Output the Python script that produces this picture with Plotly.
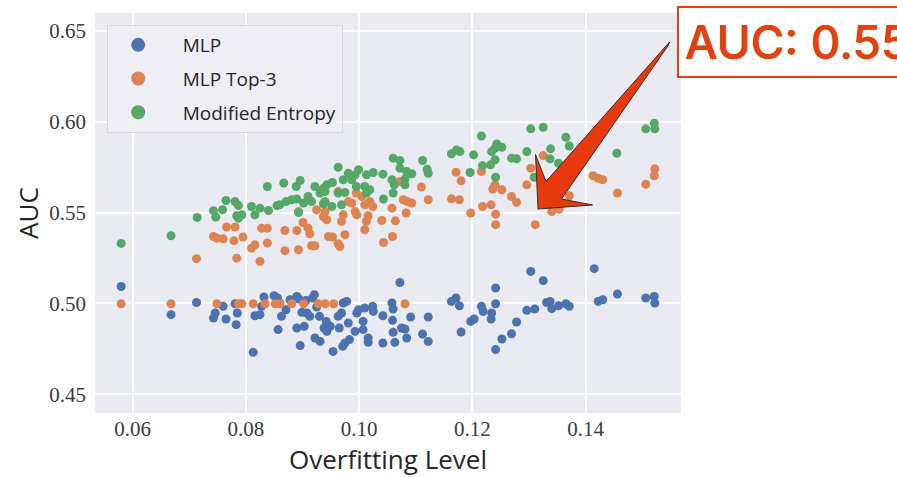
import plotly.graph_objects as go

# ---------------- data ----------------
mlp_x = [0.0580,0.0668,0.0713,0.0746,0.0743,0.0765,0.0760,0.0783,0.0785,0.0781,0.0813,0.0816,0.0825,0.0832,0.0828,
         0.0850,0.0856,0.0860,0.0871,0.0863,0.0857,0.0878,0.0890,0.0894,0.0890,0.0903,0.0896,0.0899,0.0908,0.0913,
         0.0906,0.0918,0.0921,0.0925,0.0930,0.0922,0.0931,0.0942,0.0938,0.0943,0.0949,0.0954,0.0963,0.0969,0.0965,
         0.0978,0.0972,0.0981,0.0975,0.0971,0.0983,0.0993,0.0996,0.0999,0.1010,0.1007,0.1007,0.1016,0.1024,0.1025,
         0.1016,0.1042,0.1042,0.1058,0.1060,0.1059,0.1060,0.1063,0.1072,0.1075,0.1081,0.1084,0.1091,0.1112,0.1122,
         0.1122,0.1163,0.1171,0.1177,0.1180,0.1197,0.1203,0.1216,0.1219,0.1234,0.1233,0.1241,0.1241,0.1241,0.1252,
         0.1269,0.1278,0.1296,0.1310,0.1303,0.1325,0.1331,0.1337,0.1340,0.1352,0.1365,0.1371,0.1415,0.1422,0.1430,
         0.1456,0.1506,0.1521,0.1522]
mlp_y = [0.5093,0.4938,0.5005,0.4947,0.4920,0.4914,0.4984,0.4883,0.4947,0.4998,0.4731,0.4932,0.4938,0.5035,0.4984,
         0.5042,0.5030,0.5002,0.4965,0.4929,0.4856,0.5020,0.5038,0.5024,0.4865,0.4874,0.4768,0.4951,0.4947,0.4929,
         0.5016,0.5030,0.5048,0.4980,0.4929,0.4810,0.4791,0.4901,0.4865,0.4846,0.4874,0.4736,0.4929,0.4947,0.4865,
         0.5011,0.5002,0.4892,0.4782,0.4764,0.4801,0.4846,0.4947,0.4965,0.4975,0.4901,0.4856,0.4810,0.4984,0.4956,
         0.4786,0.4932,0.4782,0.5002,0.4969,0.4907,0.4841,0.4786,0.5115,0.4865,0.4859,0.4810,0.4925,0.4832,0.4925,
         0.4791,0.5011,0.5030,0.4987,0.4843,0.4901,0.4914,0.4984,0.4956,0.4947,0.4914,0.5085,0.4998,0.4746,0.4804,
         0.4833,0.4898,0.4962,0.4969,0.5176,0.5125,0.5005,0.5011,0.4971,0.4987,0.4998,0.4984,0.5191,0.5011,0.5020,
         0.5052,0.5030,0.5038,0.5002]

top3_x = [0.0580,0.0668,0.0749,0.0787,0.0793,0.0813,0.0834,0.0852,0.0860,0.0881,0.0902,0.0928,0.0940,0.0955,0.1081,
          0.0713,0.0743,0.0749,0.0760,0.0766,0.0781,0.0779,0.0795,0.0784,0.0810,0.0816,0.0825,0.0828,0.0838,0.0838,
          0.0869,0.0869,0.0890,0.0893,0.0893,0.0901,0.0910,0.0913,0.0916,0.0922,0.0925,0.0937,0.0943,0.0946,0.0940,
          0.0963,0.0972,0.0969,0.0975,0.0953,0.0963,0.0966,0.0981,0.0987,0.0993,0.0996,0.0995,0.1005,0.1010,0.1019,
          0.1024,0.1016,0.1013,0.1010,0.1040,0.1058,0.1064,0.1059,0.1043,0.1072,0.1078,0.1085,0.1093,0.1083,0.1110,
          0.1122,0.1163,0.1177,0.1171,0.1180,0.1197,0.1216,0.1218,0.1233,0.1236,0.1240,0.1252,0.1241,0.1241,0.1269,
          0.1278,0.1296,0.1303,0.1325,0.1311,0.1340,0.1353,0.1371,0.1413,0.1422,0.1430,0.1456,0.1506,0.1521,0.1522]
top3_y = [0.4998,0.4998,0.4998,0.4998,0.4998,0.4998,0.4998,0.4998,0.4998,0.4998,0.4998,0.4998,0.4998,0.4998,0.4998,
          0.5246,0.5368,0.5359,0.5355,0.5420,0.5420,0.5344,0.5365,0.5249,0.5304,0.5322,0.5231,0.5414,0.5414,0.5332,
          0.5401,0.5290,0.5401,0.5295,0.5505,0.5445,0.5414,0.5383,0.5317,0.5317,0.5515,0.5478,0.5460,0.5368,0.5505,
          0.5615,0.5487,0.5451,0.5378,0.5365,0.5328,0.5313,0.5560,0.5552,0.5505,0.5487,0.5607,0.5588,0.5542,0.5560,
          0.5533,0.5482,0.5451,0.5405,0.5456,0.5524,0.5454,0.5368,0.5335,0.5670,0.5570,0.5560,0.5552,0.5497,0.5640,
          0.5570,0.5575,0.5570,0.5722,0.5674,0.5497,0.5725,0.5533,0.5542,0.5629,0.5652,0.5625,0.5491,0.5433,0.5588,
          0.5557,0.5652,0.5744,0.5813,0.5433,0.5505,0.5518,0.5592,0.5702,0.5689,0.5680,0.5607,0.5656,0.5702,0.5740]

ent_x = [0.0580,0.0668,0.0714,0.0743,0.0747,0.0759,0.0765,0.0781,0.0787,0.0784,0.0793,0.0787,0.0810,0.0816,0.0825,
         0.0838,0.0840,0.0855,0.0860,0.0867,0.0871,0.0881,0.0890,0.0889,0.0896,0.0893,0.0902,0.0910,0.0916,0.0922,
         0.0931,0.0937,0.0943,0.0940,0.0963,0.0953,0.0937,0.0940,0.0952,0.0969,0.0963,0.0975,0.0981,0.0972,0.0987,
         0.0995,0.0999,0.0993,0.1010,0.1013,0.1019,0.1025,0.1013,0.1042,0.1043,0.1060,0.1072,0.1058,0.1062,0.1072,
         0.1060,0.1081,0.1084,0.1093,0.1081,0.1112,0.1120,0.1122,0.1163,0.1172,0.1178,0.1202,0.1216,0.1196,0.1218,
         0.1232,0.1234,0.1240,0.1243,0.1252,0.1240,0.1241,0.1269,0.1278,0.1296,0.1303,0.1325,0.1338,0.1337,0.1352,
         0.1365,0.1371,0.1309,0.1455,0.1506,0.1521,0.1522]
ent_y = [0.5330,0.5372,0.5473,0.5510,0.5475,0.5515,0.5566,0.5560,0.5538,0.5482,0.5487,0.5469,0.5533,0.5487,0.5524,
         0.5643,0.5511,0.5538,0.5542,0.5662,0.5560,0.5570,0.5574,0.5643,0.5676,0.5500,0.5552,0.5588,0.5560,0.5643,
         0.5607,0.5548,0.5652,0.5615,0.5749,0.5665,0.5634,0.5560,0.5533,0.5542,0.5607,0.5610,0.5716,0.5680,0.5680,
         0.5643,0.5735,0.5707,0.5643,0.5707,0.5625,0.5720,0.5607,0.5711,0.5574,0.5799,0.5786,0.5680,0.5652,0.5744,
         0.5607,0.5684,0.5725,0.5713,0.5652,0.5786,0.5738,0.5716,0.5823,0.5844,0.5835,0.5817,0.5921,0.5720,0.5757,
         0.5762,0.5835,0.5854,0.5877,0.5859,0.5790,0.5694,0.5799,0.5795,0.5835,0.5960,0.5969,0.5850,0.5795,0.5771,
         0.5914,0.5866,0.5694,0.5826,0.5960,0.5991,0.5960]

series_names = ["MLP", "MLP Top-3", "Modified Entropy"]
series_colors = ["#4C72B0", "#DD8452", "#55A868"]
x_ticks = [0.06, 0.08, 0.10, 0.12, 0.14]
y_ticks = [0.45, 0.50, 0.55, 0.60, 0.65]
callout_text = "AUC: 0.55"

# ---------------- layout geometry ----------------
W, H = 897, 477
ML, MR, MT, MB = 95, 216, 13, 64
PW, PH = W - ML - MR, H - MT - MB

def px2paper(px, py):
    return (px - ML) / PW, (H - MB - py) / PH

fig = go.Figure()
for name, col, xs, ys in zip(series_names, series_colors,
                             [mlp_x, top3_x, ent_x], [mlp_y, top3_y, ent_y]):
    fig.add_trace(go.Scatter(x=xs, y=ys, mode="markers", name=name, showlegend=False,
                             marker=dict(color=col, size=9, line=dict(width=0))))
# legend-only entries (bigger symbols like the reference)
for name, col in zip(series_names, series_colors):
    fig.add_trace(go.Scatter(x=[None], y=[None], mode="markers", name=name, legendgroup=name,
                             marker=dict(color=col, size=14, line=dict(width=0))))

# arrow polygon (decoration) in pixel space -> paper
arrow_px = [(538, 209), (535.5, 154.5), (546, 181.5), (669.5, 42), (667.5, 46.5),
            (561.5, 199), (592.5, 205)]
pts = [px2paper(a, b) for a, b in arrow_px]
path = "M " + " L ".join(f"{p[0]:.4f},{p[1]:.4f}" for p in pts) + " Z"
fig.add_shape(type="path", path=path, xref="paper", yref="paper",
              fillcolor="#E8380D", line=dict(color="#3a2a2a", width=1), layer="above")

bx, by = px2paper(676.7, 42)
fig.add_annotation(text=callout_text, xref="paper", yref="paper", x=bx, y=by,
                   xanchor="left", yanchor="middle", showarrow=False,
                   font=dict(family="Inter", size=46, color="#E8400D", weight=500,
                             shadow="0px 0px 0.7px #6a2000"),
                   bgcolor="white", bordercolor="#E8400D", borderwidth=2, borderpad=6)

serif = "Liberation Serif, DejaVu Serif, serif"
lx, ly = px2paper(106.7, 25)
fig.update_layout(
    width=W, height=H,
    margin=dict(l=ML, r=MR, t=MT, b=MB, autoexpand=False),
    paper_bgcolor="white", plot_bgcolor="#EAEAF2",
    legend=dict(x=lx, y=ly, xanchor="left", yanchor="top",
                bgcolor="rgba(238,238,244,0.9)", bordercolor="#d6d6de", borderwidth=1,
                font=dict(family="Open Sans", size=19, color="#262626"),
                tracegroupgap=6, itemwidth=79, indentation=-14),
    xaxis=dict(range=[0.05338, 0.15682], tickvals=x_ticks, ticktext=[f"{v:.2f}" for v in x_ticks],
               showgrid=True, gridcolor="white", gridwidth=1.5, zeroline=False, showline=False,
               ticks="", ticklabelstandoff=1,
               tickfont=dict(family=serif, size=21, color="#3a3a3a"),
               title=dict(text="Overfitting Level", standoff=8,
                          font=dict(family="Open Sans", size=26, color="#262626"))),
    yaxis=dict(range=[0.43973, 0.65973], tickvals=y_ticks, ticktext=[f"{v:.2f}" for v in y_ticks],
               showgrid=True, gridcolor="white", gridwidth=1.5, zeroline=False, showline=False,
               ticks="", ticklabelstandoff=8,
               tickfont=dict(family=serif, size=21, color="#3a3a3a"),
               title=dict(text="AUC", standoff=3,
                          font=dict(family="Open Sans", size=26, color="#262626"))),
)
fig.write_html("out.html", config={"displayModeBar": False},
               post_script="document.body.style.margin='0';")
